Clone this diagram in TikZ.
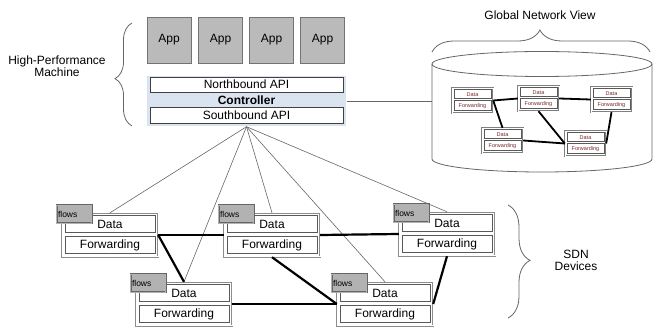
\documentclass[tikz,border=0pt]{standalone}
\usepackage{fontspec}
\setmainfont{Liberation Sans}
\usetikzlibrary{decorations.pathreplacing,calc}
\definecolor{ctrlfill}{RGB}{218,228,240}
\definecolor{minitext}{RGB}{120,40,40}
\tikzset{
  lbl/.style={font=\fontsize{12}{14}\selectfont, align=center},
  appbox/.style={draw=black!55, fill=black!27, minimum width=44pt, minimum height=46pt, inner sep=0pt, font=\fontsize{12}{14}\selectfont},
  ctrlbox/.style={draw=black!45, double=white, double distance=1pt, fill=ctrlfill, minimum width=200pt, minimum height=51pt, inner sep=0pt},
  apibox/.style={draw=black!75, line width=0.9pt, fill=white, minimum width=193pt, minimum height=15pt, inner sep=0pt, font=\fontsize{12}{14}\selectfont},
  devout/.style={draw=black!45, double=white, double distance=1pt, fill=white, minimum width=96pt, minimum height=44pt, inner sep=0pt},
  devrow/.style={draw=black!65, line width=0.8pt, fill=white, minimum width=90pt, minimum height=17pt, inner sep=0pt, font=\fontsize{12}{14}\selectfont},
  tabbox/.style={draw=black!60, double=black!30, double distance=1.2pt, fill=black!30, minimum width=35pt, minimum height=18pt, inner sep=1pt, text width=32pt, align=left, font=\fontsize{8.5}{9}\selectfont},
  miniout/.style={draw=black!50, double=white, double distance=0.8pt, fill=white, minimum width=41pt, minimum height=25pt, inner sep=0pt},
  minirow/.style={draw=black!65, line width=0.6pt, fill=white, minimum width=37pt, inner sep=0pt, text=minitext, font=\fontsize{5.5}{6}\selectfont},
  fanline/.style={draw=black!60, line width=0.6pt},
  link/.style={draw=black, line width=2.2pt},
  minilink/.style={draw=black, line width=1.8pt},
  bracel/.style={draw=black!60, line width=0.8pt, decorate},
}
\newcommand{\sdnbox}[3]{%
  \node[devout] (#1) at (#2,#3) {};
  \node[devrow] (#1data) at ($(#1.north)+(0,11.5)$) {Data};
  \node[devrow] (#1fwd) at ($(#1.north)+(0,32.5)$) {Forwarding};
  \node[tabbox] (#1tab) at ($(#1.north)+(-36,1.5)$) {flows};
}
\newcommand{\minibox}[3]{%
  \node[miniout] (#1) at (#2,#3) {};
  \node[minirow, minimum height=9pt] (#1data) at ($(#1.north)+(0,6.5)$) {Data};
  \node[minirow, minimum height=10pt] (#1fwd) at ($(#1.north)+(0,18)$) {Forwarding};
}
\begin{document}
\begin{tikzpicture}[x=1pt,y=-1pt]
\useasboundingbox (0,0) rectangle (654,331);

% Apps
\node[appbox] (app1) at (169,40) {App};
\node[appbox] (app2) at (220.5,40) {App};
\node[appbox] (app3) at (271.5,40) {App};
\node[appbox] (app4) at (322.5,40) {App};

% Controller
\node[ctrlbox] (ctrl) at (246.5,101) {};
\node[apibox] (nb) at (246.5,84.5) {Northbound API};
\node[lbl, font=\fontsize{12}{14}\selectfont\bfseries] (ctrltxt) at (246.5,100) {Controller};
\node[apibox, minimum height=16pt] (sb) at (246.5,115) {Southbound API};

% Left brace + label
\draw[bracel, decoration={brace, amplitude=17pt, aspect=0.46}] (132,126) -- (132,23);
\node[lbl] (hpm) at (57,66) {High-Performance\\[-2pt]Machine};

% Global network view: cylinder
\coordinate (cylL) at (432,101);
\draw[black!60, line width=0.8pt] (432,64) -- (432,159)
   .. controls (432,166.2) and (481.3,172) .. (542,172)
   .. controls (602.7,172) and (652,166.2) .. (652,159) -- (652,64);
\draw[black!60, line width=0.8pt] (542,64) ellipse [x radius=110pt, y radius=12.5pt];
\draw[bracel, decoration={brace, amplitude=22pt, aspect=0.495}] (432,52) -- (650,52);
\node[lbl] (gnv) at (540,15) {Global Network View};
\draw[fanline] (ctrl.east) -- (cylL);

% Mini network
\minibox{ma}{472.5}{100.5}
\minibox{mb}{538.5}{98.5}
\minibox{mc}{611.5}{99.5}
\minibox{md}{502.5}{140.5}
\minibox{me}{585.5}{143.5}
\draw[minilink] (ma.east) -- (mb.west);
\draw[minilink] (mb.east) -- (mc.west);
\draw[minilink] (ma.east) -- (md.north);
\draw[minilink] (mb.south) -- (me.west);
\draw[minilink] (md.east) -- (me.west);
\draw[minilink] (mc.south) -- (me.east);

% SDN devices
\sdnbox{d1}{110}{235}
\sdnbox{d2}{272}{235}
\sdnbox{d3}{184}{304}
\sdnbox{d4}{447}{234}
\sdnbox{d5}{385}{304}

% fan lines from controller
\draw[fanline] (ctrl.south) -- (d1.north);
\draw[fanline] (ctrl.south) -- (d2.north);
\draw[fanline] (ctrl.south) -- (d3.north);
\draw[fanline] (ctrl.south) -- (d4.north);
\draw[fanline] (ctrl.south) -- (d5.north);

% links
\draw[link] (d1.east) -- (d2.west);
\draw[link] (d1.east) -- (d3.north);
\draw[link] (d2.east) -- (d4.west);
\draw[link] (d2.south) -- (d5.west);
\draw[link] (d3.east) -- (d5.west);
\draw[link] (d4.south) -- (d5.east);

% right brace + label
\draw[bracel, decoration={brace, amplitude=22pt, aspect=0.49}] (508,205) -- (508,318);
\node[lbl] (sdn) at (576,260) {SDN\\[-2pt]Devices};
\end{tikzpicture}
\end{document}
